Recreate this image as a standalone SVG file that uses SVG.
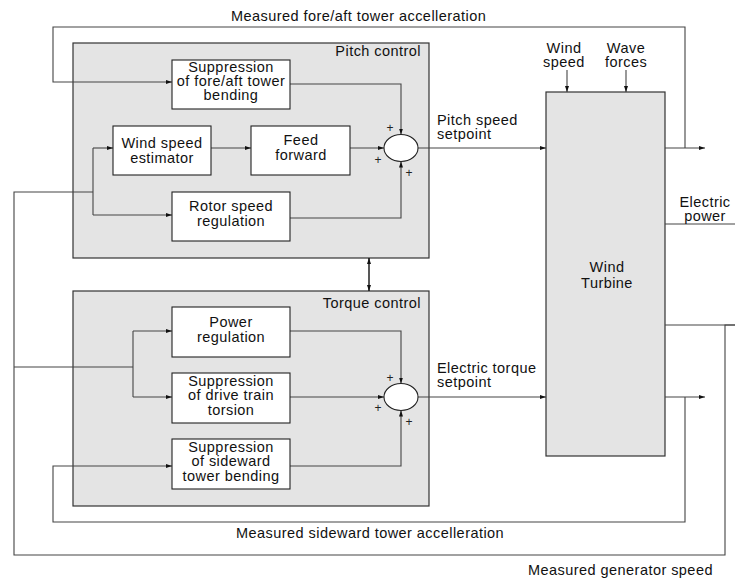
<svg xmlns="http://www.w3.org/2000/svg" width="735" height="579" viewBox="0 0 735 579">
<defs>
<marker id="ah" viewBox="0 0 6 4" refX="6" refY="2" markerWidth="6" markerHeight="4" markerUnits="userSpaceOnUse" orient="auto-start-reverse">
<path d="M0,0 L6,2 L0,4 Z" fill="#111"/>
</marker>
</defs>
<style>
text{font-family:"Liberation Sans",Arial,sans-serif;font-size:14.5px;letter-spacing:0.45px;fill:#111}
.c{text-anchor:middle}
.e{text-anchor:end}
.panel{fill:#e4e4e4;stroke:#333;stroke-width:1.2}
.blk{fill:#fff;stroke:#222;stroke-width:1.1}
.sum{fill:#fff;stroke:#222;stroke-width:1.1}
.ln{fill:none;stroke:#444;stroke-width:1.1}
.ar{marker-end:url(#ah)}
.pl{font-size:12px;letter-spacing:0;fill:#222}
</style>

<g id="pitch-control">
<rect class="panel" x="73" y="43" width="356" height="215"/>
<text class="e" x="421" y="56">Pitch control</text>
</g>
<g id="torque-control">
<rect class="panel" x="73" y="291" width="356" height="215"/>
<text class="e" x="421" y="308">Torque control</text>
</g>
<g id="turbine">
<rect class="panel" x="546" y="92" width="119" height="364"/>
<text class="c" x="607" y="272">Wind</text>
<text class="c" x="607" y="288">Turbine</text>
</g>

<g id="connectors">
<polyline class="ln ar" points="685,148 685,27 53,27 53,82 172,82"/>
<polyline class="ln ar" points="290,84 401,84 401,134.5"/>
<line class="ln ar" x1="211" y1="148" x2="251" y2="148"/>
<line class="ln ar" x1="350" y1="148" x2="384" y2="148"/>
<polyline class="ln ar" points="290,218 401,218 401,161.5"/>
<line class="ln ar" x1="418" y1="148" x2="546" y2="148"/>
<polyline class="ln" points="735,325 725,325 725,555 14,555 14,192 93,192"/>
<line class="ln" x1="665" y1="325" x2="735" y2="325"/>
<line class="ln" x1="93" y1="148" x2="93" y2="215"/>
<line class="ln ar" x1="93" y1="148" x2="113" y2="148"/>
<line class="ln ar" x1="93" y1="215" x2="172" y2="215"/>
<line class="ln" x1="14" y1="367" x2="133" y2="367"/>
<line class="ln" x1="133" y1="331" x2="133" y2="397"/>
<line class="ln ar" x1="133" y1="331" x2="172" y2="331"/>
<line class="ln ar" x1="133" y1="397" x2="172" y2="397"/>
<polyline class="ln ar" points="290,331 401,331 401,383.5"/>
<line class="ln ar" x1="290" y1="397" x2="384" y2="397"/>
<polyline class="ln ar" points="290,466 401,466 401,410.5"/>
<line class="ln ar" x1="418" y1="397" x2="546" y2="397"/>
<polyline class="ln ar" points="685,397 685,522 53,522 53,466 172,466"/>
<line class="ln ar" x1="665" y1="148" x2="705" y2="148"/>
<line class="ln ar" x1="665" y1="397" x2="705" y2="397"/>
<line class="ln" x1="665" y1="224" x2="735" y2="224"/>
<line class="ln ar" x1="567" y1="70" x2="567" y2="92"/>
<line class="ln ar" x1="626" y1="70" x2="626" y2="92"/>
<line x1="369" y1="258" x2="369" y2="291" stroke="#111" stroke-width="1.4" marker-start="url(#ah)" marker-end="url(#ah)"/>
</g>

<g id="sup-foreaft">
<rect class="blk" x="172" y="60" width="118" height="49"/>
<text class="c" x="231" y="72">Suppression</text>
<text class="c" x="231" y="86">of fore/aft tower</text>
<text class="c" x="231" y="100">bending</text>
</g>
<g id="wind-est">
<rect class="blk" x="113" y="126" width="98" height="49"/>
<text class="c" x="162" y="148">Wind speed</text>
<text class="c" x="162" y="163">estimator</text>
</g>
<g id="feed-forward">
<rect class="blk" x="251" y="126" width="99" height="49"/>
<text class="c" x="301" y="145">Feed</text>
<text class="c" x="301" y="160">forward</text>
</g>
<g id="rotor-speed">
<rect class="blk" x="172" y="192" width="118" height="49"/>
<text class="c" x="231" y="211">Rotor speed</text>
<text class="c" x="231" y="226">regulation</text>
</g>
<g id="pitch-sum">
<ellipse class="sum" cx="401" cy="148" rx="17" ry="13.5"/>
<text class="pl" x="390" y="132" text-anchor="middle">+</text>
<text class="pl" x="378" y="164" text-anchor="middle">+</text>
<text class="pl" x="409" y="177" text-anchor="middle">+</text>
</g>

<g id="power-reg">
<rect class="blk" x="172" y="307" width="118" height="50"/>
<text class="c" x="231" y="327">Power</text>
<text class="c" x="231" y="342">regulation</text>
</g>
<g id="sup-drivetrain">
<rect class="blk" x="172" y="373" width="118" height="50"/>
<text class="c" x="231" y="386">Suppression</text>
<text class="c" x="231" y="400">of drive train</text>
<text class="c" x="231" y="415">torsion</text>
</g>
<g id="sup-sideward">
<rect class="blk" x="172" y="439" width="118" height="50"/>
<text class="c" x="231" y="452">Suppression</text>
<text class="c" x="231" y="466">of sideward</text>
<text class="c" x="231" y="481">tower bending</text>
</g>
<g id="torque-sum">
<ellipse class="sum" cx="401" cy="397" rx="17" ry="13.5"/>
<text class="pl" x="390" y="382" text-anchor="middle">+</text>
<text class="pl" x="378" y="412" text-anchor="middle">+</text>
<text class="pl" x="409" y="426" text-anchor="middle">+</text>
</g>

<g id="labels">
<text x="231" y="21">Measured fore/aft tower accelleration</text>
<text x="437" y="125">Pitch speed</text>
<text x="437" y="139">setpoint</text>
<text x="437" y="373">Electric torque</text>
<text x="437" y="387">setpoint</text>
<text class="c" x="564" y="53">Wind</text>
<text class="c" x="564" y="67">speed</text>
<text class="c" x="626" y="53">Wave</text>
<text class="c" x="626" y="67">forces</text>
<text class="c" x="705" y="207">Electric</text>
<text class="c" x="705" y="221">power</text>
<text x="236" y="538">Measured sideward tower accelleration</text>
<text x="528" y="575">Measured generator speed</text>
</g>
</svg>
